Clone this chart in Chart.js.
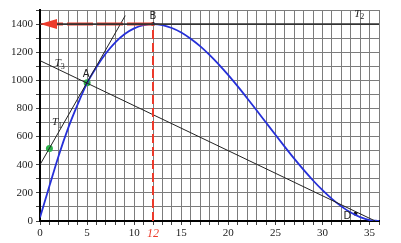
<!DOCTYPE html>
<html>
<head>
<meta charset="utf-8">
<script src="https://cdn.jsdelivr.net/npm/chart.js@4"></script>
<style>
  html, body { margin: 0; padding: 0; background: #fff; }
  #wrap { width: 401px; height: 243px; }
</style>
</head>
<body>
<div id="wrap"><canvas id="chart"></canvas></div>
<script>
// values
const xs = [0,1,2,3,4,5,6,7,8,9,10,11,12,13,14,15,16,17,18,19,20,21,22,23,24,25,26,27,28,29,30,31,32,33,34,35,36]
const curveY = [25,248,468,662,829,980,1094,1192,1270,1329,1369,1392,1400,1393,1372,1340,1296,1243,1181,1112,1037,957,873,787,700,613,527,443,363,288,219,157,104,60,28,7,0]

const tangent1 = [{x: 0, y: 400}, {x: 9.05, y: 1460}]
const tangent2 = [{x: 0, y: 1400}, {x: 36, y: 1400}]
const tangent3 = [{x: 0, y: 1140}, {x: 35.6, y: 0}]
const pointA = {x: 5, y: 982}
const pointB = {x: 12, y: 1400}
const pointD = {x: 33.5, y: 52}
const pointT1 = {x: 1, y: 515}
const xMarked = 12

const red = '#ec3a2a'
const serif = 'Liberation Serif, serif'

const curve = xs.map((x, i) => ({x: x, y: curveY[i]}))

const extras = {
  id: 'extras',
  afterDatasetsDraw(chart) {
    const ctx = chart.ctx
    const sx = chart.scales.x, sy = chart.scales.y
    const px = v => sx.getPixelForValue(v), py = v => sy.getPixelForValue(v)
    ctx.save()
    // arrow head on the left end of the red line
    const tipX = px(0), tipY = py(pointB.y)
    ctx.fillStyle = red
    ctx.beginPath()
    ctx.moveTo(tipX, tipY)
    ctx.lineTo(tipX + 17, tipY - 5)
    ctx.lineTo(tipX + 17, tipY + 5)
    ctx.closePath()
    ctx.fill()

    ctx.fillStyle = '#222'
    ctx.textAlign = 'center'
    ctx.textBaseline = 'middle'
    ctx.font = '10px "DejaVu Sans"'
    ctx.fillText('B', px(pointB.x), py(pointB.y) - 8)
    ctx.fillText('A', px(pointA.x) - 1, py(pointA.y) - 8)
    ctx.fillText('D', px(pointD.x) - 8, py(pointD.y) + 3)

    const tLabel = (txt, sub, x, y) => {
      ctx.font = 'italic 11px ' + serif
      ctx.textAlign = 'left'
      ctx.fillText(txt, x - 5, y)
      ctx.font = '8px ' + serif
      ctx.fillText(sub, x + 1, y + 3)
    }
    tLabel('T', '3', px(2.1), py(1119))
    tLabel('T', '1', px(1.8), py(700))
    tLabel('T', '2', px(33.9), py(1473))
    ctx.restore()
  }
}

const lineDs = (data, color, width, extra) => Object.assign({
  type: 'line', data: data, borderColor: color, borderWidth: width,
  pointRadius: 0, fill: false, tension: 0
}, extra || {})

new Chart(document.getElementById('chart'), {
  type: 'scatter',
  data: {
    datasets: [
      lineDs(tangent2, '#333', 1.8),
      lineDs([{x: xMarked, y: 0}, {x: xMarked, y: pointB.y}], red, 2, {borderDash: [9, 4]}),
      lineDs([{x: xMarked, y: pointB.y}, {x: 1.5, y: pointB.y}], red, 3, {borderDash: [26, 4]}),
      lineDs(tangent1, '#222', 1),
      lineDs(tangent3, '#222', 1),
      lineDs(curve, '#2630d8', 1.8, {cubicInterpolationMode: 'monotone'}),
      {type: 'scatter', data: [pointA, pointT1], backgroundColor: '#2cb14a', borderWidth: 0, pointRadius: 3.5},
      {type: 'scatter', data: [pointB, pointD], backgroundColor: '#111', borderWidth: 0, pointRadius: 2}
    ]
  },
  options: {
    responsive: true,
    maintainAspectRatio: false,
    animation: false,
    layout: {padding: {top: 10, right: 22, left: 0, bottom: 0}},
    plugins: {legend: {display: false}, tooltip: {enabled: false}},
    scales: {
      x: {
        type: 'linear', min: 0, max: 36,
        afterFit: s => { s.height = 22 },
        border: {color: '#000', width: 2},
        grid: {color: '#7c7c7c', lineWidth: 1, tickLength: 4, tickColor: '#444'},
        ticks: {
          stepSize: 1, autoSkip: false, maxRotation: 0, padding: 2,
          callback: v => (v % 5 === 0 && v < 36) || v === xMarked ? String(v) : '',
          color: c => c.tick && c.tick.value === xMarked ? red : '#222',
          font: c => c.tick && c.tick.value === xMarked
            ? {family: serif, size: 12, style: 'italic'}
            : {family: serif, size: 11}
        }
      },
      y: {
        type: 'linear', min: 0, max: 1500,
        afterFit: s => { s.width = 40 },
        border: {color: '#000', width: 2},
        grid: {color: '#7c7c7c', lineWidth: 1, tickLength: 4, tickColor: '#444'},
        ticks: {
          stepSize: 100, autoSkip: false, padding: 3, color: '#222',
          font: {family: serif, size: 11},
          callback: v => v % 200 === 0 ? String(v) : ''
        }
      }
    }
  },
  plugins: [extras]
})
</script>
</body>
</html>
